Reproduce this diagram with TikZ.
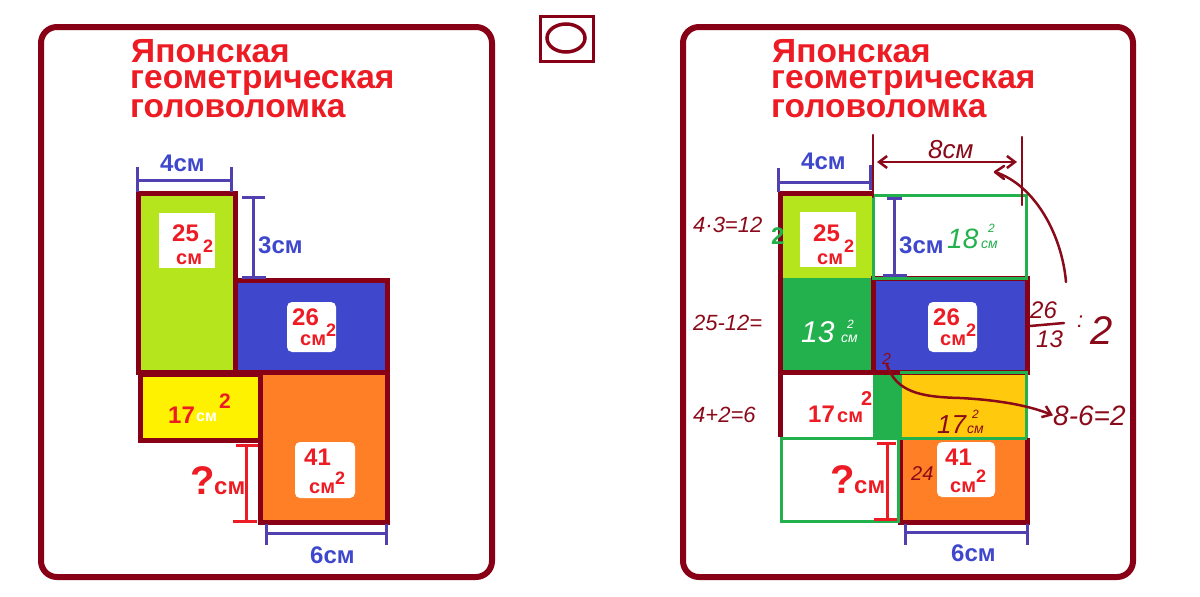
\documentclass[tikz,border=0pt]{standalone}
\usepackage{fontspec}
\setmainfont{Liberation Sans}
\usetikzlibrary{arrows.meta}
\definecolor{dkred}{HTML}{880015}
\definecolor{tred}{HTML}{ED1C24}
\definecolor{tblue}{HTML}{3F48CC}
\definecolor{pblue}{HTML}{3F48CC}
\definecolor{dimblue}{HTML}{5040B0}
\definecolor{lime}{HTML}{B5E61D}
\definecolor{pyellow}{HTML}{FFF200}
\definecolor{porange}{HTML}{FF7F27}
\definecolor{pgreen}{HTML}{22B14C}
\definecolor{pgold}{HTML}{FFC90E}
\definecolor{handred}{HTML}{8B0A1A}
\tikzset{
  panel/.style={draw=dkred, line width=6pt, rounded corners=16pt},
  ttl/.style={anchor=base west, inner sep=0pt, text=tred, font=\fontsize{33.5}{28}\selectfont\bfseries},
  ttlA/.style={ttl, text height=24pt, text depth=0pt},
  ttlB/.style={ttl, text height=18pt, text depth=7pt},
  ttlC/.style={ttl, text height=18pt, text depth=0pt},
  num/.style={anchor=base west, inner sep=0pt, text=tred, font=\fontsize{24}{24}\selectfont\bfseries},
  unitt/.style={anchor=base west, inner sep=0pt, text=tred, font=\fontsize{20}{20}\selectfont\bfseries},
  sq/.style={anchor=base west, inner sep=0pt, text=tred, font=\fontsize{18}{18}\selectfont\bfseries},
  qmark/.style={anchor=base west, inner sep=0pt, text=tred, font=\fontsize{40}{40}\selectfont\bfseries},
  dimtext/.style={anchor=base west, inner sep=0pt, text=tblue, font=\fontsize{24}{24}\selectfont\bfseries},
  dimline/.style={draw=dimblue, line width=3pt},
  qline/.style={draw=tred, line width=3pt},
  piece/.style={draw=dkred, line width=5pt},
  gline/.style={draw=pgreen, line width=3pt},
  hand/.style={anchor=base west, inner sep=0pt, text=handred, font=\fontsize{22}{22}\selectfont\itshape},
  handsm/.style={anchor=base west, inner sep=0pt, text=handred, font=\fontsize{14}{14}\selectfont\itshape},
  handline/.style={draw=handred, line width=2.5pt, line cap=round, line join=round},
}
\begin{document}
\begin{tikzpicture}[x=1pt,y=-1pt]
\useasboundingbox (0,0) rectangle (1200,597);
\fill[white] (0,0) rectangle (1200,597);

% ---------- panels ----------
\draw[panel] (41,27) rectangle (492,577);
\draw[panel] (683,27) rectangle (1133,577);

% ---------- centre icon ----------
\draw[dkred, line width=3pt] (540,16) rectangle (593,61);
\draw[dkred, line width=3.5pt] (566,38) ellipse [x radius=19pt, y radius=14pt];

% ================= LEFT PANEL =================
\node[ttlA] (tL1) at (131,62) {Японская};
\node[ttlB] (tL2) at (130,88) {геометрическая};
\node[ttlC] (tL3) at (130,117) {головоломка};

\filldraw[piece, fill=lime] (138,193) rectangle (235,372);
\filldraw[piece, fill=pblue] (235,280) rectangle (387,372);
\filldraw[piece, fill=pyellow] (140,374) rectangle (260,440);
\filldraw[piece, fill=porange] (260,372) rectangle (387,522);

\fill[white] (159,213) rectangle (215,268);
\fill[white, rounded corners=5pt] (287,302) rectangle (336,352);
\fill[white, rounded corners=5pt] (295,442) rectangle (355,498);

\node[num] (aL25) at (172,241) {25};
\node[unitt] (uL25) at (176,264) {см};
\node[sq] (sL25) at (203,252) {2};
\node[num] (aL26) at (292,325) {26};
\node[unitt] (uL26) at (300,345) {см};
\node[sq] (sL26) at (326,336) {2};
\node[num] (aL17) at (168,423) {17};
\node[anchor=base west, inner sep=0pt, text=white, font=\fontsize{16}{16}\selectfont\bfseries] (uL17) at (196,421) {см};
\node[sq, font=\fontsize{21}{21}\selectfont\bfseries] (sL17) at (219,408) {2};
\node[num] (aL41) at (304,465) {41};
\node[unitt] (uL41) at (309,493) {см};
\node[sq] (sL41) at (335,484) {2};

\draw[dimline] (137,180) -- (231,180);
\draw[dimline] (137,167) -- (137,192);
\draw[dimline] (231,167) -- (231,192);
\node[dimtext] (dL4) at (160,171) {4см};
\draw[dimline] (253,197) -- (253,277);
\draw[dimline] (242,197) -- (265,197);
\draw[dimline] (242,277) -- (266,277);
\node[dimtext] (dL3) at (258,253) {3см};
\draw[dimline] (266,533) -- (386,533);
\draw[dimline] (266,524) -- (266,545);
\draw[dimline] (386,524) -- (386,545);
\node[dimtext] (dL6) at (310,563) {6см};
\draw[qline] (246,445) -- (246,521);
\draw[qline] (236,445) -- (258,445);
\draw[qline] (233,521) -- (257,521);
\node[qmark] (qL) at (190,494) {?};
\node[num] (qLu) at (214,494) {см};

% ================= RIGHT PANEL =================
\node[ttlA] (tR1) at (772,62) {Японская};
\node[ttlB] (tR2) at (771,88) {геометрическая};
\node[ttlC] (tR3) at (771,117) {головоломка};

\fill[pgreen] (780,278) rectangle (873,372);
\fill[pgreen] (873,372) rectangle (902,438);
\fill[lime] (780,193) rectangle (873,278);
\draw[dkred, line width=1.5pt] (873,197) -- (873,278);
\filldraw[piece, fill=pblue] (873,278) rectangle (1027,372);
\fill[pgold] (902,375) rectangle (1025,437);
\fill[porange] (900,438) rectangle (1027,522);
\draw[piece] (900,438) -- (900,522) -- (1027,522) -- (1027,438);
\draw[piece] (780,437) -- (780,193) -- (873,193);
\draw[piece] (780,372) -- (873,372);
\draw[gline] (900,372) -- (1026,372) -- (1026,438);
\draw[gline] (781,438) -- (1027,438);
\draw[gline] (781,438) rectangle (898,521);
\draw[gline] (873,195) rectangle (1026,278);

\fill[white] (800,212) rectangle (856,267);
\fill[white, rounded corners=5pt] (928,302) rectangle (977,352);
\fill[white, rounded corners=5pt] (937,442) rectangle (995,497);

\node[num] (aR25) at (813,241) {25};
\node[unitt] (uR25) at (817,264) {см};
\node[sq] (sR25) at (844,252) {2};
\node[num] (aR26) at (933,325) {26};
\node[unitt] (uR26) at (940,345) {см};
\node[sq] (sR26) at (966,336) {2};
\node[num] (aR17) at (808,422) {17};
\node[unitt] (uR17) at (837,422) {см};
\node[sq, font=\fontsize{20}{20}\selectfont\bfseries] (sR17) at (861,405) {2};
\node[num] (aR41) at (945,465) {41};
\node[unitt] (uR41) at (950,492) {см};
\node[sq] (sR41) at (976,482) {2};

\draw[dimline] (778,182) -- (870,182);
\draw[dimline] (778,168) -- (778,192);
\draw[dimline] (870,165) -- (870,190);
\node[dimtext] (dR4) at (801,169) {4см};
\draw[dimline] (894,198) -- (894,275);
\draw[dimline] (887,198) -- (902,198);
\draw[dimline] (883,275) -- (907,275);
\node[dimtext] (dR3) at (899,253) {3см};
\draw[dimline] (905,532) -- (1027,532);
\draw[dimline] (905,524) -- (905,545);
\draw[dimline] (1027,524) -- (1027,545);
\node[dimtext] (dR6) at (951,561) {6см};
\draw[qline] (887,443) -- (887,520);
\draw[qline] (877,443) -- (896,443);
\draw[qline] (874,519) -- (897,519);
\node[qmark] (qR) at (830,493) {?};
\node[num] (qRu) at (854,493) {см};

% ---------- handwritten notes ----------
\draw[handline] (873,135) -- (873,197);
\draw[handline] (1022,137) -- (1022,205);
\coordinate (a8l) at (877,162);
\coordinate (a8r) at (1017,162);
\draw[handline, {Straight Barb[length=8pt,width=12pt]}-{Straight Barb[length=8pt,width=12pt]}] (a8l) -- (a8r);
\node[hand, font=\fontsize{26}{26}\selectfont\itshape] (h8) at (928,158) {8см};
\coordinate (hk1) at (1004,166);
\coordinate (hk2) at (995,172);
\coordinate (hk3) at (1004,179);
\coordinate (hkE) at (1066,282);
\draw[handline] (hk1) -- (hk2) -- (hk3);
\draw[handline] (hk2) .. controls (1035,185) and (1062,235) .. (hkE);

\node[hand] (h1) at (693,232) {4·3=12};
\node[hand, text=pgreen, font=\fontsize{24}{24}\selectfont\bfseries] (h1g) at (771,244) {2};
\node[hand] (h2) at (693,330) {25-12=};
\node[hand] (h3) at (693,422) {4+2=6};

\node[hand, font=\fontsize{24}{24}\selectfont\itshape] (fr1) at (1030,318) {26};
\coordinate (frL) at (1030,326);
\coordinate (frR) at (1064,323);
\draw[handline] (frL) -- (frR);
\node[hand, font=\fontsize{24}{24}\selectfont\itshape] (fr2) at (1036,347) {13};
\node[hand] (fr3) at (1077,327) {:};
\node[hand, font=\fontsize{40}{40}\selectfont\itshape] (fr4) at (1090,344) {2};

\node[hand, font=\fontsize{28}{28}\selectfont\itshape] (h5) at (1053,425) {8-6=2};
\node[handsm, font=\fontsize{16}{16}\selectfont\itshape] (h2s) at (882,364) {2};
\draw[handline, -{Straight Barb[length=8pt,width=12pt]}] (h2s.south) .. controls (896,392) and (920,397) .. (960,398) .. controls (1000,400) and (1030,406) .. (h5.west);

\node[hand, text=white, font=\fontsize{30}{30}\selectfont\itshape] (h13) at (801,342) {13};
\node[handsm, text=white] (h13u) at (841,342) {см};
\node[handsm, text=white, font=\fontsize{12}{12}\selectfont\itshape] (h13s) at (847,328) {2};
\node[hand, text=pgreen, font=\fontsize{28}{28}\selectfont\itshape] (h18) at (947,248) {18};
\node[handsm, text=pgreen] (h18u) at (981,248) {см};
\node[handsm, text=pgreen, font=\fontsize{12}{12}\selectfont\itshape] (h18s) at (988,232) {2};
\node[hand, font=\fontsize{26}{26}\selectfont\itshape] (h17) at (937,433) {17};
\node[handsm] (h17u) at (967,433) {см};
\node[handsm, font=\fontsize{12}{12}\selectfont\itshape] (h17s) at (972,418) {2};
\node[hand, font=\fontsize{20}{20}\selectfont\itshape] (h24) at (911,480) {24};
\end{tikzpicture}
\end{document}
